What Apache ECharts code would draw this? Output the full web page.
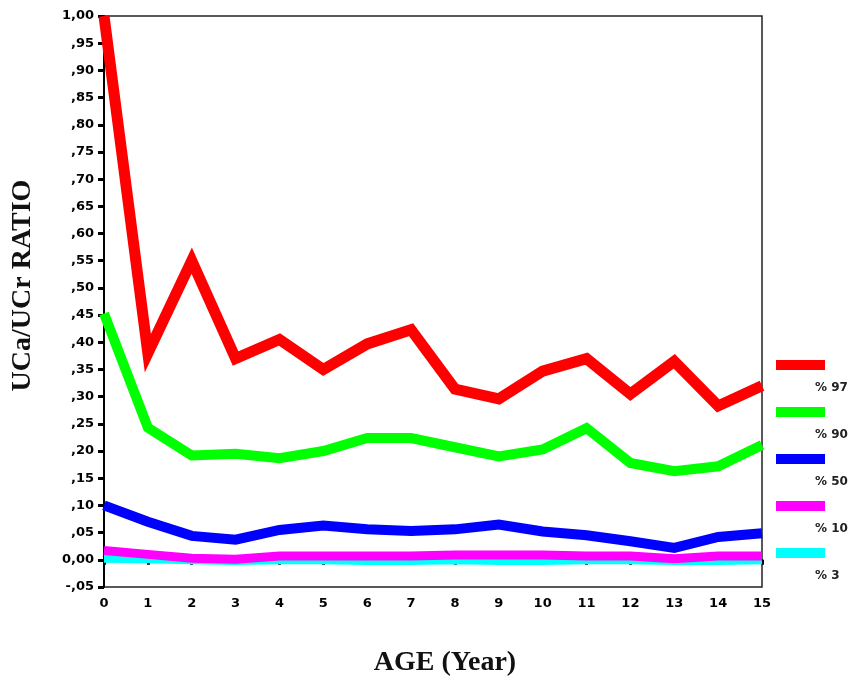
<!DOCTYPE html>
<html>
<head>
<meta charset="utf-8">
<script src="https://cdn.jsdelivr.net/npm/echarts@6/dist/echarts.min.js"></script>
<style>
html,body{margin:0;padding:0;background:#fff;}
#chart{width:856px;height:680px;}
</style>
</head>
<body>
<div id="chart"></div>
<script>
const ages = ['0','1','2','3','4','5','6','7','8','9','10','11','12','13','14','15'];
const seriesNames = ['% 97', '% 90', '% 50', '% 10', '% 3'];
const p97 = [1.00, 0.38, 0.55, 0.37, 0.405, 0.35, 0.397, 0.423, 0.314, 0.296, 0.347, 0.37, 0.305, 0.365, 0.283, 0.32];
const p90 = [0.453, 0.243, 0.192, 0.195, 0.187, 0.20, 0.224, 0.224, 0.207, 0.19, 0.203, 0.242, 0.178, 0.163, 0.172, 0.211];
const p50 = [0.100, 0.070, 0.044, 0.037, 0.055, 0.063, 0.056, 0.053, 0.056, 0.065, 0.052, 0.045, 0.034, 0.022, 0.042, 0.049];
const p10 = [0.017, 0.010, 0.003, 0.001, 0.007, 0.007, 0.007, 0.007, 0.009, 0.009, 0.009, 0.007, 0.007, 0.002, 0.007, 0.007];
const p3 = [0.002, 0.001, -0.001, -0.002, -0.001, -0.001, -0.002, -0.002, -0.001, -0.002, -0.002, -0.001, -0.001, -0.002, -0.002, -0.001];
const yTickMin = -0.05, yTickMax = 1.00, yTickStep = 0.05;

const colors = ['#ff0000', '#00ff00', '#0000ff', '#ff00ff', '#00ffff'];
const widths = [11, 10, 10, 9, 8];
const allData = [p97, p90, p50, p10, p3];
const legendIconCenters = [365, 412, 459, 506, 553];

function fmtY(v) {
  const n = Math.round(v * 100);
  if (n === 100) return '1,00';
  if (n === 0) return '0,00';
  const s = (Math.abs(n) < 10 ? '0' : '') + Math.abs(n);
  return (n < 0 ? '-,' : ',') + s;
}

const chart = echarts.init(document.getElementById('chart'));
chart.setOption({
  backgroundColor: '#ffffff',
  animation: false,
  grid: {
    left: 104, right: 94, top: 16, bottom: 93,
    outerBoundsMode: 'none',
    containLabel: false,
    show: true, borderColor: '#222', borderWidth: 1.5, backgroundColor: 'transparent'
  },
  legend: seriesNames.map((name, i) => ({
    orient: 'vertical',
    left: 776, top: legendIconCenters[i] - 46,
    padding: 0,
    itemWidth: 49, itemHeight: 10, itemGap: 0,
    icon: 'rect',
    data: [name],
    formatter: n => '\n' + n,
    textStyle: {
      fontFamily: 'DejaVu Sans', fontWeight: 'bold', fontSize: 12, color: '#222',
      lineHeight: 46,
      padding: [0, 0, 0, -15]
    }
  })),
  xAxis: {
    type: 'category',
    data: ages,
    boundaryGap: false,
    name: 'AGE (Year)',
    nameLocation: 'middle',
    nameGap: 62,
    nameTextStyle: {
      fontFamily: 'Liberation Serif', fontWeight: 'bold', fontSize: 28, color: '#111',
      padding: [0, 0, 0, 24]
    },
    axisLine: { lineStyle: { color: '#000', width: 2 } },
    axisTick: { show: true, length: 5, lineStyle: { color: '#000', width: 3 }, alignWithLabel: true },
    axisLabel: { fontFamily: 'DejaVu Sans', fontWeight: 'bold', fontSize: 13, color: '#000', margin: 10 },
    splitLine: { show: false }
  },
  yAxis: {
    type: 'value',
    min: yTickMin, max: yTickMax, interval: yTickStep,
    name: 'UCa/UCr RATIO',
    nameLocation: 'middle',
    nameGap: 67,
    nameTextStyle: {
      fontFamily: 'Liberation Serif', fontWeight: 'bold', fontSize: 28, color: '#111',
      padding: [0, 0, 0, 32]
    },
    axisLine: { show: true, lineStyle: { color: '#000', width: 2 } },
    axisTick: { show: true, length: 6, lineStyle: { color: '#000', width: 3 } },
    axisLabel: { fontFamily: 'DejaVu Sans', fontWeight: 'bold', fontSize: 13, color: '#000', margin: 10, formatter: fmtY },
    splitLine: { show: false }
  },
  series: seriesNames.map((name, i) => ({
    name: name,
    type: 'line',
    data: allData[i],
    showSymbol: false,
    symbol: 'none',
    clip: false,
    z: 10 - i,
    color: colors[i],
    lineStyle: { color: colors[i], width: widths[i], join: 'miter', cap: 'butt' }
  }))
});
</script>
</body>
</html>
